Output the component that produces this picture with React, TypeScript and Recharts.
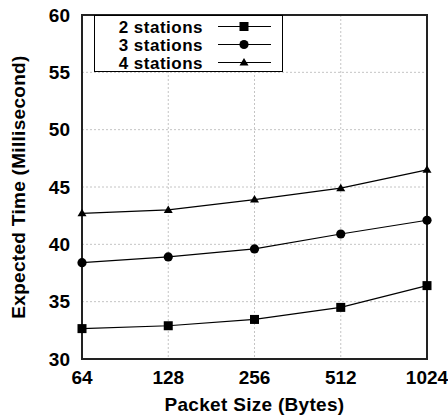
// Expected time vs packet size, three station counts
import React from 'react';
import {
  LineChart,
  Line,
  XAxis,
  YAxis,
  CartesianGrid,
  Legend,
  ReferenceArea,
} from 'recharts';

const PACKET_SIZES = ['64', '128', '256', '512', '1024'];
const STATIONS_2 = [32.65, 32.9, 33.45, 34.5, 36.4];
const STATIONS_3 = [38.4, 38.9, 39.6, 40.9, 42.1];
const STATIONS_4 = [42.7, 43.0, 43.9, 44.9, 46.5];
const Y_TICKS = [30, 35, 40, 45, 50, 55, 60];

const SERIES = [
  { key: 's2', name: '2 stations', shape: 'square' },
  { key: 's3', name: '3 stations', shape: 'circle' },
  { key: 's4', name: '4 stations', shape: 'triangle' },
];

const FONT = '"Liberation Sans", Arial, sans-serif';

const data = PACKET_SIZES.map((size, i) => ({
  size,
  s2: STATIONS_2[i],
  s3: STATIONS_3[i],
  s4: STATIONS_4[i],
}));

function Marker({ cx, cy, shape }: { cx: number; cy: number; shape: string }) {
  if (shape === 'square') {
    return <rect x={cx - 4.5} y={cy - 4.5} width={9} height={9} fill="#000" />;
  }
  if (shape === 'circle') {
    return <circle cx={cx} cy={cy} r={4.6} fill="#000" />;
  }
  return (
    <polygon
      points={`${cx},${cy - 4.5} ${cx + 4.5},${cy + 3} ${cx - 4.5},${cy + 3}`}
      fill="#000"
    />
  );
}

const makeDot = (shape: string) => (props: any) => {
  const { cx, cy, index } = props;
  if (cx == null || cy == null) return <g key={index} />;
  return <Marker key={index} cx={cx} cy={cy} shape={shape} />;
};

function LegendBox() {
  return (
    <svg width={189} height={58} style={{ display: 'block' }}>
      <rect x={0.5} y={0.5} width={188} height={56} fill="#fff" stroke="#000" strokeWidth={1} />
      {SERIES.map((s, i) => {
        const cy = 11.5 + i * 18;
        return (
          <g key={s.key}>
            <text
              x={109}
              y={cy}
              dy="0.36em"
              textAnchor="end"
              fontFamily={FONT}
              fontWeight="bold"
              fontSize={17}
              letterSpacing={0.5}
              fill="#000"
            >
              {s.name}
            </text>
            <line x1={124} x2={177} y1={cy} y2={cy} stroke="#000" strokeWidth={1} />
            <Marker cx={150} cy={cy} shape={s.shape} />
          </g>
        );
      })}
    </svg>
  );
}

const tickStyle = { fontFamily: FONT, fontWeight: 'bold', fontSize: 19, fill: '#000' };

export default function App() {
  return (
    <div style={{ position: 'absolute', left: 0, top: 0, background: '#fff' }}>
      <LineChart
        width={448}
        height={417}
        data={data}
        margin={{ top: 15, right: 21, bottom: 0, left: 0 }}
      >
        <CartesianGrid stroke="#c4c4c4" strokeDasharray="2 2" />
        <XAxis
          dataKey="size"
          height={58}
          tickSize={0}
          tickMargin={12}
          tick={tickStyle}
          axisLine={{ stroke: '#222', strokeWidth: 2 }}
          label={{
            value: 'Packet Size (Bytes)',
            position: 'insideBottom',
            offset: 6,
            style: { fontFamily: FONT, fontWeight: 'bold', fontSize: 19, fill: '#000', letterSpacing: 0.3 },
          }}
        />
        <YAxis
          domain={[30, 60]}
          ticks={Y_TICKS}
          width={82}
          tickSize={0}
          tickMargin={12}
          tick={tickStyle}
          axisLine={{ stroke: '#222', strokeWidth: 2 }}
          label={{
            content: (props: any) => {
              const vb = props.viewBox;
              const cx = vb.x + 18;
              const cy = vb.y + vb.height / 2;
              return (
                <text
                  x={cx}
                  y={cy}
                  transform={`rotate(-90, ${cx}, ${cy})`}
                  textAnchor="middle"
                  dy="0.36em"
                  fontFamily={FONT}
                  fontWeight="bold"
                  fontSize={19}
                  letterSpacing={0.3}
                  fill="#000"
                >
                  Expected Time (Millisecond)
                </text>
              );
            },
          }}
        />
        <ReferenceArea
          x1="64"
          x2="1024"
          y1={30}
          y2={60}
          fill="none"
          stroke="#222"
          strokeWidth={2}
          ifOverflow="visible"
        />
        <Legend
          layout="horizontal"
          verticalAlign="middle"
          align="center"
          content={() => <LegendBox />}
          wrapperStyle={{ left: 94, top: 15, width: 189, height: 58 }}
        />
        {SERIES.map((s) => (
          <Line
            key={s.key}
            dataKey={s.key}
            name={s.name}
            stroke="#000"
            strokeWidth={1.2}
            dot={makeDot(s.shape)}
            activeDot={false}
            isAnimationActive={false}
          />
        ))}
      </LineChart>
    </div>
  );
}
